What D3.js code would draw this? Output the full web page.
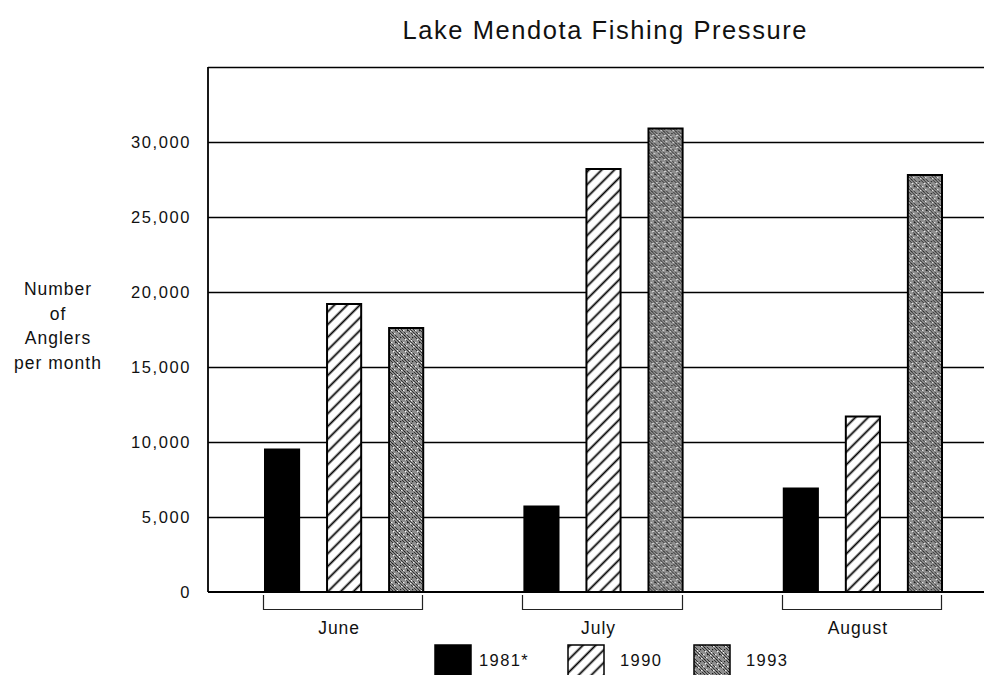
<!DOCTYPE html>
<html>
<head>
<meta charset="utf-8">
<script src="https://cdn.jsdelivr.net/npm/d3@7"></script>
<style>
  html, body { margin: 0; padding: 0; background: #fff; }
  svg { display: block; font-family: "Liberation Sans", Arial, Helvetica, sans-serif; }
</style>
</head>
<body>
<svg id="chart" width="984" height="675"></svg>
<script>
// ---- Data ----
const months = ["June", "July", "August"];
const years = ["1981", "1990", "1993"];
const yearLabels = ["1981*", "1990", "1993"];
const values1981 = [9500, 5700, 6900];
const values1990 = [19200, 28200, 11700];
const values1993 = [17600, 30900, 27800];
const tickValues = [0, 5000, 10000, 15000, 20000, 25000, 30000];
const gridValues = [5000, 10000, 15000, 20000, 25000, 30000, 35000];
const title = "Lake Mendota Fishing Pressure";
const yTitle = ["Number", "of", "Anglers", "per month"];

const seriesByYear = { "1981": values1981, "1990": values1990, "1993": values1993 };

(function () {
const svg = d3.select("#chart");

// ---- Patterns ----
const defs = svg.append("defs");
const hatch = defs.append("pattern")
  .attr("id", "hatch").attr("patternUnits", "userSpaceOnUse")
  .attr("width", 9).attr("height", 9)
  .attr("patternTransform", "rotate(45)");
hatch.append("rect").attr("width", 9).attr("height", 9).attr("fill", "#fff");
hatch.append("line").attr("x1", 4.5).attr("x2", 4.5).attr("y1", 0).attr("y2", 9)
  .attr("stroke", "#000").attr("stroke-width", 1.8);

const stip = defs.append("pattern")
  .attr("id", "stip").attr("patternUnits", "userSpaceOnUse")
  .attr("width", 12).attr("height", 12);
stip.append("rect").attr("width", 12).attr("height", 12).attr("fill", "#8e8e8e");
[[0,0,12,12],[-6,0,6,12],[6,0,18,12],[0,6,6,12],[6,-6,18,6],[-3,0,9,12],[3,-6,15,6]].forEach(([a,b,c,d]) => {
  stip.append("line").attr("x1", a).attr("y1", b).attr("x2", c).attr("y2", d)
    .attr("stroke", "#333").attr("stroke-width", 1);
});
[[2,7],[9,3],[5,10],[10,9],[1,2],[7,6],[3,4]].forEach(([x,y]) => {
  stip.append("rect").attr("x", x).attr("y", y).attr("width", 1.4).attr("height", 1.4).attr("fill", "#f2f2f2");
});
[[4,1],[11,6],[8,11]].forEach(([x,y]) => {
  stip.append("rect").attr("x", x).attr("y", y).attr("width", 1.2).attr("height", 1.2).attr("fill", "#1a1a1a");
});

const fills = { "1981": "#000", "1990": "url(#hatch)", "1993": "url(#stip)" };

// ---- Scales ----
const plotLeft = 208, plotRight = 984, plotTop = 67, plotBottom = 592;
const y = d3.scaleLinear().domain([0, 35000]).range([plotBottom, plotTop]);
const x0 = d3.scaleBand().domain(months).range([264, 941]).paddingInner(0.39).paddingOuter(0);
const x1 = d3.scaleBand().domain(years).range([0, x0.bandwidth()]).paddingInner(0.45).paddingOuter(0);

// ---- Title ----
svg.append("text").attr("x", 604.5).attr("y", 39).attr("text-anchor", "middle")
  .attr("font-size", 25.5).attr("textLength", 404).attr("lengthAdjust", "spacing")
  .attr("fill", "#111").text(title);

// ---- Grid and frame ----
svg.append("g").selectAll("line").data(gridValues).join("line")
  .attr("x1", plotLeft).attr("x2", plotRight)
  .attr("y1", d => Math.round(y(d)) + 0.5).attr("y2", d => Math.round(y(d)) + 0.5)
  .attr("stroke", "#000").attr("stroke-width", 1.3);
svg.append("line").attr("x1", plotLeft).attr("x2", plotRight).attr("y1", y(0)).attr("y2", y(0))
  .attr("stroke", "#000").attr("stroke-width", 2);
svg.append("line").attr("x1", plotLeft).attr("x2", plotLeft).attr("y1", Math.round(y(35000))).attr("y2", y(0))
  .attr("stroke", "#000").attr("stroke-width", 1.8);

// ---- Y tick labels ----
const yAxis = d3.axisLeft(y).tickValues(tickValues).tickSize(0).tickPadding(17)
  .tickFormat(d3.format(","));
const ya = svg.append("g").attr("transform", `translate(${plotLeft},0)`).call(yAxis);
ya.select(".domain").remove();
ya.selectAll("text").attr("font-size", 16.5).attr("font-family", "Liberation Sans, Arial, sans-serif")
  .attr("fill", "#111").attr("letter-spacing", 1.6).attr("dy", "0.36em");

// ---- Y title ----
const yt = svg.append("text").attr("text-anchor", "middle").attr("font-size", 17.5).attr("fill", "#111")
  .attr("letter-spacing", 1);
yTitle.forEach((t, i) => {
  yt.append("tspan").attr("x", 58).attr("y", 295 + i * 24.5).text(t);
});

// ---- Bars ----
const groups = svg.append("g").selectAll("g").data(months).join("g")
  .attr("transform", d => `translate(${x0(d)},0)`);
groups.selectAll("rect").data((m, mi) => years.map(yr => ({ yr, v: seriesByYear[yr][mi] })))
  .join("rect")
  .attr("x", d => x1(d.yr) + 1)
  .attr("width", x1.bandwidth())
  .attr("y", d => y(d.v))
  .attr("height", d => y(0) - y(d.v))
  .attr("fill", d => fills[d.yr])
  .attr("stroke", "#000").attr("stroke-width", 2);

// ---- Month brackets and labels ----
const br = svg.append("g");
months.forEach(m => {
  const a = Math.round(x0(m)) - 0.5, b = Math.round(x0(m) + x0.bandwidth()) + 0.5;
  br.append("path").attr("d", `M${a},${plotBottom + 3}V609.5H${b}V${plotBottom + 3}`)
    .attr("fill", "none").attr("stroke", "#222").attr("stroke-width", 1.2);
  br.append("text").attr("x", x0(m) + x0.bandwidth() / 2 - 4).attr("y", 634)
    .attr("text-anchor", "middle").attr("font-size", 17.5).attr("letter-spacing", 1)
    .attr("fill", "#111").text(m);
});

// ---- Legend ----
const legendX = [435, 568, 694];
const lg = svg.append("g");
years.forEach((yr, i) => {
  lg.append("rect").attr("x", legendX[i]).attr("y", 645).attr("width", 36).attr("height", 34)
    .attr("fill", fills[yr]).attr("stroke", "#000").attr("stroke-width", 1.5);
  lg.append("text").attr("x", legendX[i] + 44 + (i > 0 ? 8 : 0)).attr("y", 666)
    .attr("font-size", 16.5).attr("letter-spacing", 1.4).attr("fill", "#111").text(yearLabels[i]);
});
})();
</script>
</body>
</html>
